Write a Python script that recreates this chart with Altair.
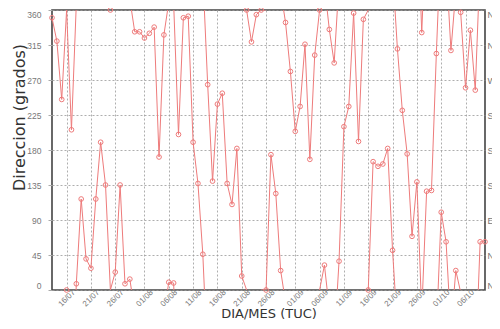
import altair as alt
import pandas as pd

# ---- data ----
fecha_inicio = "2005-07-13"
fecha_fin = "2005-10-10"
direccion = [350, 320, 245, 0, 206, 8, 117, 40, 28, 117,
             190, 135, 360, 23, 135, 8, 14, 332, 332, 324,
             330, 338, 171, 328, 10, 9, 200, 350, 352, 190,
             137, 46, 264, 140, 239, 253, 137, 110, 182, 18,
             360, 319, 354, 360, 0, 174, 124, 25, 344, 281,
             204, 236, 316, 168, 302, 360, 32, 335, 292, 37,
             210, 236, 356, 191, 348, 0, 165, 159, 162, 182,
             51, 310, 231, 175, 69, 139, 331, 127, 128, 304,
             100, 62, 308, 25, 357, 260, 334, 257, 62, 62]
ticks_x = ["2005-07-16", "2005-07-21", "2005-07-26", "2005-08-01", "2005-08-06",
           "2005-08-11", "2005-08-16", "2005-08-21", "2005-08-26", "2005-09-01",
           "2005-09-06", "2005-09-11", "2005-09-16", "2005-09-21", "2005-09-26",
           "2005-10-01", "2005-10-06"]
ticks_y = [0, 45, 90, 135, 180, 225, 270, 315, 360]
rumbos = ["N", "NE", "E", "SE", "S", "SW", "W", "NW", "N"]

ROJO = "#ee7b7b"


def ms(d):
    return int(pd.Timestamp(d, tz="UTC").timestamp() * 1000)


fechas = pd.date_range(fecha_inicio, periods=len(direccion), freq="D", tz="UTC")
t = [int(f.timestamp() * 1000) for f in fechas]

pts = pd.DataFrame({"t": t, "v": direccion})

# wrap-aware segments (direction is circular)
rows = []
for k in range(len(direccion) - 1):
    v1, v2 = direccion[k], direccion[k + 1]
    d = v2 - v1
    if abs(d) <= 180:
        rows.append({"t1": t[k], "y1": v1, "t2": t[k + 1], "y2": v2})
    else:
        s = 360 if d < 0 else -360
        rows.append({"t1": t[k], "y1": v1, "t2": t[k + 1], "y2": v2 + s})
        rows.append({"t1": t[k], "y1": v1 - s, "t2": t[k + 1], "y2": v2})
segs = pd.DataFrame(rows)

x_scale = alt.Scale(type="utc", domain=[ms(fecha_inicio), ms(fecha_fin)], nice=False)
y_scale = alt.Scale(domain=[0, 360], nice=False, zero=False)

x_axis = alt.Axis(values=[ms(d) for d in ticks_x],
                  labelExpr="utcFormat(datum.value, '%d/%m')",
                  labelAngle=315, labelAlign="center", labelBaseline="middle",
                  labelPadding=8, tickSize=0, labelOverlap=False, labelFlush=False,
                  labelFont="Liberation Sans", labelFontSize=8, labelColor="#777",
                  grid=True, gridDash=[2, 2], gridColor="#999", gridWidth=0.8,
                  domain=False,
                  title="DIA/MES (TUC)", titleFont="DejaVu Sans", titleFontSize=13,
                  titleFontWeight="normal", titleColor="#333",
                  titleBaseline="alphabetic", titleY=27)

y_left = alt.Axis(values=ticks_y, labelFont="Liberation Sans", labelFontSize=8.5,
                  labelColor="#777", tickSize=4, tickColor="#aaa", labelPadding=7,
                  labelFlush=True,
                  grid=True, gridDash=[2, 2], gridColor="#999", gridWidth=0.8,
                  domain=False,
                  title="Direccion (grados)", titleFont="DejaVu Sans", titleFontSize=16,
                  titleFontWeight="normal", titleColor="#333",
                  titleAngle=270, titleAlign="center", titleBaseline="middle",
                  titleX=-33, titleY=107)

y_right = alt.Axis(orient="right", values=ticks_y,
                   labelExpr="%s[datum.value / 45]" % str(rumbos),
                   labelFont="Liberation Sans", labelFontSize=9, labelColor="#777",
                   labelFlush=True,
                   tickSize=0, labelPadding=2, grid=False, domain=False, title=None)

lineas = alt.Chart(segs).mark_rule(clip=True, color=ROJO, strokeWidth=1).encode(
    x=alt.X("t1:T", scale=x_scale, axis=x_axis),
    x2="t2:T",
    y=alt.Y("y1:Q", scale=y_scale, axis=y_left),
    y2="y2:Q",
)

puntos = alt.Chart(pts).mark_point(filled=False, size=22, color=ROJO, strokeWidth=1,
                                   opacity=1).encode(
    x=alt.X("t:T", scale=x_scale, axis=x_axis),
    y=alt.Y("v:Q", scale=y_scale, axis=y_right),
)

chart = alt.layer(lineas, puntos).resolve_axis(y="independent").properties(
    width=433, height=280,
    autosize=alt.AutoSizeParams(type="none"),
    padding={"left": 44, "top": 2, "right": 7, "bottom": 31},
    background="white",
).configure_view(stroke="#444", strokeWidth=1.6)

chart.save("out.html", embed_options={"renderer": "svg", "actions": False})
